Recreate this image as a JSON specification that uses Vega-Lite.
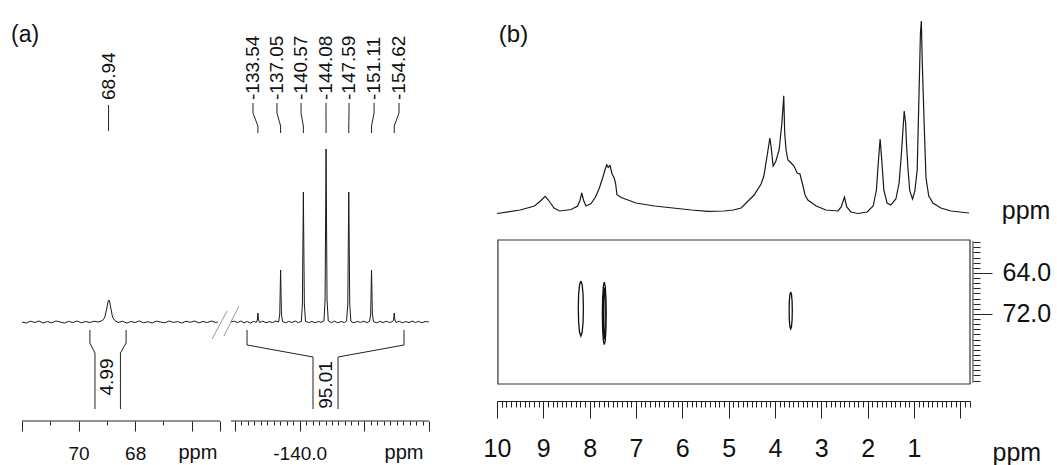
{
"$schema": "https://vega.github.io/schema/vega-lite/v6.json",
"background": "white",
"padding": {"left": 10, "top": 18, "right": 2, "bottom": 2},
"bounds": "flush",
"spacing": 11,
"config": {
  "view": {"stroke": null},
  "axis": {"grid": false, "domainColor": "#222", "tickColor": "#222", "labelColor": "#111", "labelFont": "Liberation Sans", "tickWidth": 1, "domainWidth": 1},
  "text": {"font": "Liberation Sans", "color": "#111"}
},
"datasets": {
  "a1": [
    {"ppm":72.0,"I":0},{"ppm":71.85,"I":-1},{"ppm":71.7,"I":0.8},{"ppm":71.55,"I":-0.5},{"ppm":71.4,"I":1},{"ppm":71.25,"I":-1},{"ppm":71.1,"I":0.5},{"ppm":70.95,"I":-0.8},{"ppm":70.8,"I":1},{"ppm":70.65,"I":0},{"ppm":70.5,"I":-1},{"ppm":70.35,"I":0.6},{"ppm":70.2,"I":-0.5},{"ppm":70.05,"I":1},{"ppm":69.9,"I":-0.8},{"ppm":69.75,"I":0.5},{"ppm":69.6,"I":-0.5},{"ppm":69.45,"I":0.8},{"ppm":69.3,"I":0},
    {"ppm":69.15,"I":1.5},{"ppm":69.07,"I":5},{"ppm":69.0,"I":14},{"ppm":68.96,"I":20},{"ppm":68.93,"I":22},{"ppm":68.9,"I":20},{"ppm":68.86,"I":14},{"ppm":68.8,"I":5},{"ppm":68.72,"I":1.5},
    {"ppm":68.6,"I":-0.5},{"ppm":68.45,"I":0.8},{"ppm":68.3,"I":-1},{"ppm":68.15,"I":0.5},{"ppm":68.0,"I":-0.5},{"ppm":67.85,"I":1},{"ppm":67.7,"I":-0.8},{"ppm":67.55,"I":0.3},{"ppm":67.4,"I":-1},{"ppm":67.25,"I":0.8},{"ppm":67.1,"I":0},{"ppm":66.95,"I":-0.8},{"ppm":66.8,"I":1},{"ppm":66.65,"I":-0.5},{"ppm":66.5,"I":0.5},{"ppm":66.35,"I":-1},{"ppm":66.2,"I":0.8},{"ppm":66.05,"I":-0.3},{"ppm":65.9,"I":1},{"ppm":65.75,"I":-0.8},{"ppm":65.6,"I":0.5},{"ppm":65.45,"I":-0.5},{"ppm":65.3,"I":1},{"ppm":65.15,"I":-0.5},{"ppm":65.08,"I":0}
  ],
  "a2": [
    {"ppm":-129.4,"I":0},{"ppm":-129.9,"I":0.8},{"ppm":-130.4,"I":-0.6},{"ppm":-130.9,"I":1},{"ppm":-131.4,"I":-0.8},{"ppm":-131.9,"I":0.5},{"ppm":-132.4,"I":-1},{"ppm":-132.9,"I":0.6},{"ppm":-133.3,"I":-0.3},
    {"ppm":-133.45,"I":2},{"ppm":-133.54,"I":9},{"ppm":-133.63,"I":2},
    {"ppm":-133.8,"I":-0.5},{"ppm":-134.3,"I":0.8},{"ppm":-134.8,"I":-0.8},{"ppm":-135.3,"I":0.4},{"ppm":-135.8,"I":-0.6},{"ppm":-136.3,"I":1},{"ppm":-136.75,"I":0},
    {"ppm":-136.92,"I":8},{"ppm":-137.05,"I":52},{"ppm":-137.18,"I":8},
    {"ppm":-137.35,"I":0.5},{"ppm":-137.8,"I":-0.8},{"ppm":-138.3,"I":0.6},{"ppm":-138.8,"I":-0.5},{"ppm":-139.3,"I":1},{"ppm":-139.8,"I":-0.6},{"ppm":-140.25,"I":0.5},
    {"ppm":-140.42,"I":18},{"ppm":-140.57,"I":130},{"ppm":-140.72,"I":18},
    {"ppm":-140.9,"I":0.8},{"ppm":-141.4,"I":-0.6},{"ppm":-141.9,"I":0.5},{"ppm":-142.4,"I":-0.8},{"ppm":-142.9,"I":0.6},{"ppm":-143.3,"I":-0.4},{"ppm":-143.75,"I":1},
    {"ppm":-143.93,"I":22},{"ppm":-144.08,"I":173},{"ppm":-144.23,"I":22},
    {"ppm":-144.42,"I":1},{"ppm":-144.9,"I":-0.6},{"ppm":-145.4,"I":0.8},{"ppm":-145.9,"I":-0.8},{"ppm":-146.4,"I":0.5},{"ppm":-146.9,"I":-0.5},{"ppm":-147.25,"I":1},
    {"ppm":-147.44,"I":18},{"ppm":-147.59,"I":130},{"ppm":-147.74,"I":18},
    {"ppm":-147.92,"I":0.5},{"ppm":-148.4,"I":-0.8},{"ppm":-148.9,"I":0.6},{"ppm":-149.4,"I":-0.4},{"ppm":-149.9,"I":0.8},{"ppm":-150.4,"I":-0.6},{"ppm":-150.8,"I":0.5},
    {"ppm":-150.98,"I":8},{"ppm":-151.11,"I":52},{"ppm":-151.24,"I":8},
    {"ppm":-151.42,"I":0.3},{"ppm":-151.9,"I":-0.8},{"ppm":-152.4,"I":0.6},{"ppm":-152.9,"I":-0.5},{"ppm":-153.4,"I":0.8},{"ppm":-153.9,"I":-0.6},{"ppm":-154.35,"I":0.5},
    {"ppm":-154.53,"I":2},{"ppm":-154.62,"I":9},{"ppm":-154.71,"I":2},
    {"ppm":-154.9,"I":-0.4},{"ppm":-155.4,"I":0.7},{"ppm":-155.9,"I":-0.8},{"ppm":-156.4,"I":0.5},{"ppm":-156.9,"I":-0.6},{"ppm":-157.4,"I":0.9},{"ppm":-157.9,"I":-0.5},{"ppm":-158.4,"I":0.6},{"ppm":-158.9,"I":-0.8},{"ppm":-159.4,"I":0.5},{"ppm":-159.95,"I":0}
  ],
  "b1": [
    {"ppm":10.0,"I":0},{"ppm":9.5,"I":3.5},{"ppm":9.19,"I":7.5},{"ppm":9.05,"I":13},{"ppm":8.96,"I":17.2},{"ppm":8.9,"I":14},{"ppm":8.83,"I":9.5},{"ppm":8.77,"I":5.5},{"ppm":8.65,"I":2.5},{"ppm":8.4,"I":4},{"ppm":8.26,"I":7.5},{"ppm":8.21,"I":13},{"ppm":8.17,"I":20.5},{"ppm":8.13,"I":13},{"ppm":8.08,"I":7.5},{"ppm":7.97,"I":10},{"ppm":7.88,"I":16},{"ppm":7.79,"I":25.5},{"ppm":7.71,"I":37},{"ppm":7.66,"I":45},{"ppm":7.63,"I":48.8},{"ppm":7.6,"I":46},{"ppm":7.56,"I":48},{"ppm":7.52,"I":40},{"ppm":7.47,"I":35.5},{"ppm":7.44,"I":30},{"ppm":7.41,"I":18.8},{"ppm":7.32,"I":16},{"ppm":7.0,"I":10.5},{"ppm":6.6,"I":7.5},{"ppm":6.2,"I":5.5},{"ppm":5.8,"I":3.5},{"ppm":5.45,"I":2.2},{"ppm":5.1,"I":2.5},{"ppm":4.9,"I":3.5},{"ppm":4.73,"I":5.5},
    {"ppm":4.45,"I":18.5},{"ppm":4.3,"I":29.5},{"ppm":4.24,"I":37.5},{"ppm":4.16,"I":60.5},{"ppm":4.11,"I":75.5},{"ppm":4.08,"I":65.5},{"ppm":4.04,"I":47.5},{"ppm":3.98,"I":52.5},{"ppm":3.91,"I":63.5},{"ppm":3.85,"I":90.5},{"ppm":3.81,"I":117.8},{"ppm":3.79,"I":80.5},{"ppm":3.76,"I":63.5},{"ppm":3.72,"I":53.5},{"ppm":3.65,"I":50.5},{"ppm":3.59,"I":47.5},{"ppm":3.52,"I":40.5},{"ppm":3.46,"I":39.5},{"ppm":3.4,"I":28.5},{"ppm":3.35,"I":18.5},{"ppm":3.29,"I":13.5},{"ppm":3.11,"I":7.5},{"ppm":2.9,"I":3.5},{"ppm":2.64,"I":2.5},{"ppm":2.57,"I":6.5},{"ppm":2.5,"I":16.5},{"ppm":2.45,"I":6.5},{"ppm":2.36,"I":1.5},{"ppm":2.21,"I":0},{"ppm":2.01,"I":1.5},{"ppm":1.88,"I":7.5},{"ppm":1.81,"I":23.5},{"ppm":1.77,"I":50.5},{"ppm":1.73,"I":74.5},{"ppm":1.69,"I":50.5},{"ppm":1.65,"I":23.5},{"ppm":1.58,"I":10.5},{"ppm":1.5,"I":8.5},{"ppm":1.39,"I":14.5},{"ppm":1.32,"I":30.5},{"ppm":1.27,"I":60.5},{"ppm":1.21,"I":102.5},{"ppm":1.18,"I":90.5},{"ppm":1.16,"I":68.8},{"ppm":1.13,"I":45.5},{"ppm":1.09,"I":22.5},{"ppm":1.03,"I":14.5},{"ppm":0.98,"I":22.5},{"ppm":0.93,"I":43.5},{"ppm":0.89,"I":120.5},{"ppm":0.86,"I":180.5},{"ppm":0.84,"I":192.5},{"ppm":0.82,"I":150.5},{"ppm":0.78,"I":90.5},{"ppm":0.74,"I":35.5},{"ppm":0.68,"I":17.5},{"ppm":0.59,"I":10.5},{"ppm":0.42,"I":5.5},{"ppm":0.2,"I":2.5},{"ppm":-0.19,"I":0.5}
  ],
  "b2": [
    {"id":"c1","o":0,"h":8.19,"c":65.56},{"id":"c1","o":1,"h":8.218,"c":66.28},{"id":"c1","o":2,"h":8.238,"c":68.25},{"id":"c1","o":3,"h":8.245,"c":70.93},{"id":"c1","o":4,"h":8.238,"c":73.61},{"id":"c1","o":5,"h":8.218,"c":75.57},{"id":"c1","o":6,"h":8.19,"c":76.29},{"id":"c1","o":7,"h":8.162,"c":75.57},{"id":"c1","o":8,"h":8.142,"c":73.61},{"id":"c1","o":9,"h":8.135,"c":70.93},{"id":"c1","o":10,"h":8.142,"c":68.25},{"id":"c1","o":11,"h":8.162,"c":66.28},{"id":"c1","o":12,"h":8.19,"c":65.56},
    {"id":"c2","o":0,"h":7.684,"c":65.81},{"id":"c2","o":1,"h":7.705,"c":66.63},{"id":"c2","o":2,"h":7.72,"c":68.86},{"id":"c2","o":3,"h":7.726,"c":71.9},{"id":"c2","o":4,"h":7.72,"c":74.95},{"id":"c2","o":5,"h":7.705,"c":77.18},{"id":"c2","o":6,"h":7.684,"c":77.99},{"id":"c2","o":7,"h":7.663,"c":77.18},{"id":"c2","o":8,"h":7.648,"c":74.95},{"id":"c2","o":9,"h":7.642,"c":71.9},{"id":"c2","o":10,"h":7.648,"c":68.86},{"id":"c2","o":11,"h":7.663,"c":66.63},{"id":"c2","o":12,"h":7.684,"c":65.81},
    {"id":"c2i","o":0,"h":7.684,"c":66.83},{"id":"c2i","o":1,"h":7.694,"c":67.51},{"id":"c2i","o":2,"h":7.701,"c":69.37},{"id":"c2i","o":3,"h":7.704,"c":71.9},{"id":"c2i","o":4,"h":7.701,"c":74.44},{"id":"c2i","o":5,"h":7.694,"c":76.29},{"id":"c2i","o":6,"h":7.684,"c":76.98},{"id":"c2i","o":7,"h":7.674,"c":76.29},{"id":"c2i","o":8,"h":7.667,"c":74.44},{"id":"c2i","o":9,"h":7.664,"c":71.9},{"id":"c2i","o":10,"h":7.667,"c":69.37},{"id":"c2i","o":11,"h":7.674,"c":67.51},{"id":"c2i","o":12,"h":7.684,"c":66.83},
    {"id":"c3","o":0,"h":3.66,"c":67.7},{"id":"c3","o":1,"h":3.677,"c":68.19},{"id":"c3","o":2,"h":3.69,"c":69.51},{"id":"c3","o":3,"h":3.694,"c":71.31},{"id":"c3","o":4,"h":3.69,"c":73.12},{"id":"c3","o":5,"h":3.677,"c":74.44},{"id":"c3","o":6,"h":3.66,"c":74.92},{"id":"c3","o":7,"h":3.643,"c":74.44},{"id":"c3","o":8,"h":3.63,"c":73.12},{"id":"c3","o":9,"h":3.626,"c":71.31},{"id":"c3","o":10,"h":3.63,"c":69.51},{"id":"c3","o":11,"h":3.643,"c":68.19},{"id":"c3","o":12,"h":3.66,"c":67.7}
  ]
},
"hconcat": [
  {
    "width": 198, "height": 400,
    "layer": [
      {"data": {"name": "a1"}, "mark": {"type": "line", "color": "#1a1a1a", "strokeWidth": 1},
       "encoding": {
         "x": {"field": "ppm", "type": "quantitative", "scale": {"domain": [72, 65], "nice": false, "zero": false},
               "axis": {"orient": "bottom", "title": null, "values": [72,71,70,69,68,67,66,65], "tickCount": 1000, "domain": false, "grid": false,
                        "tickSize": {"condition": {"test": "datum.value % 2 === 0 || datum.value === 65", "value": 10}, "value": 4},
                        "labelExpr": "datum.value === 70 ? '70' : (datum.value === 68 ? '68' : '')",
                        "labelFontSize": 19, "labelPadding": 13, "labelOverlap": false, "labelFlush": false}},
         "y": {"field": "I", "type": "quantitative", "scale": {"domain": [-99, 301], "nice": false, "zero": false}, "axis": null}
       }},
      {"data": {"values": [{}]}, "layer": [
        {"mark": {"type": "rule", "color": "#222", "strokeWidth": 1},
         "encoding": {"x": {"datum": 72, "type": "quantitative"}, "x2": {"datum": 65}, "y": {"datum": -99, "type": "quantitative", "axis": null}}},
        {"mark": {"type": "rule", "color": "#999", "strokeWidth": 1},
         "encoding": {"x": {"datum": 65.28, "type": "quantitative"}, "x2": {"datum": 64.75}, "y": {"datum": -17, "type": "quantitative", "axis": null}, "y2": {"datum": 11}}},
        {"mark": {"type": "rule", "color": "#999", "strokeWidth": 1},
         "encoding": {"x": {"datum": 64.86, "type": "quantitative"}, "x2": {"datum": 64.33}, "y": {"datum": -14, "type": "quantitative", "axis": null}, "y2": {"datum": 16}}},
        {"mark": {"type": "text", "align": "left", "baseline": "middle", "fontSize": 23},
         "encoding": {"x": {"datum": 72.39, "type": "quantitative"}, "y": {"datum": 287, "type": "quantitative", "axis": null}, "text": {"value": "(a)"}}},
        {"mark": {"type": "text", "align": "center", "baseline": "alphabetic", "fontSize": 20},
         "encoding": {"x": {"datum": 65.78, "type": "quantitative"}, "y": {"datum": -137, "type": "quantitative", "axis": null}, "text": {"value": "ppm"}}}
      ]},
      {"data": {"values": [{"shift": 68.94, "label": "68.94"}]}, "layer": [
        {"mark": {"type": "rule", "color": "#222", "strokeWidth": 1},
         "encoding": {"x": {"field": "shift", "type": "quantitative"}, "y": {"datum": 217, "type": "quantitative", "axis": null}, "y2": {"datum": 191}}},
        {"mark": {"type": "text", "angle": 270, "align": "left", "baseline": "middle", "fontSize": 19},
         "encoding": {"x": {"field": "shift", "type": "quantitative"}, "y": {"datum": 222, "type": "quantitative", "axis": null}, "text": {"field": "label"}}}
      ]},
      {"data": {"values": [{"lo": 69.60, "hi": 68.32, "loIn": 69.42, "hiIn": 68.52, "mid": 68.99, "label": "4.99"}]}, "layer": [
        {"mark": {"type": "rule", "color": "#222"}, "encoding": {"x": {"field": "lo", "type": "quantitative"}, "y": {"datum": -8, "type": "quantitative", "axis": null}, "y2": {"datum": -21}}},
        {"mark": {"type": "rule", "color": "#222"}, "encoding": {"x": {"field": "lo", "type": "quantitative"}, "x2": {"field": "loIn"}, "y": {"datum": -21, "type": "quantitative", "axis": null}, "y2": {"datum": -31}}},
        {"mark": {"type": "rule", "color": "#222"}, "encoding": {"x": {"field": "loIn", "type": "quantitative"}, "y": {"datum": -31, "type": "quantitative", "axis": null}, "y2": {"datum": -87}}},
        {"mark": {"type": "rule", "color": "#222"}, "encoding": {"x": {"field": "hi", "type": "quantitative"}, "y": {"datum": -8, "type": "quantitative", "axis": null}, "y2": {"datum": -21}}},
        {"mark": {"type": "rule", "color": "#222"}, "encoding": {"x": {"field": "hi", "type": "quantitative"}, "x2": {"field": "hiIn"}, "y": {"datum": -21, "type": "quantitative", "axis": null}, "y2": {"datum": -31}}},
        {"mark": {"type": "rule", "color": "#222"}, "encoding": {"x": {"field": "hiIn", "type": "quantitative"}, "y": {"datum": -31, "type": "quantitative", "axis": null}, "y2": {"datum": -87}}},
        {"mark": {"type": "text", "angle": 270, "align": "center", "baseline": "middle", "fontSize": 19},
         "encoding": {"x": {"field": "mid", "type": "quantitative"}, "y": {"datum": -55, "type": "quantitative", "axis": null}, "text": {"field": "label"}}}
      ]}
    ]
  },
  {
    "width": 255, "height": 400,
    "layer": [
      {"data": {"name": "a2"}, "mark": {"type": "line", "color": "#1a1a1a", "strokeWidth": 1},
       "encoding": {
         "x": {"field": "ppm", "type": "quantitative", "scale": {"domain": [-129.38, -168.81], "nice": false, "zero": false},
               "axis": {"orient": "bottom", "title": null, "tickCount": 1000,
                        "values": [-130,-131,-132,-133,-134,-135,-136,-137,-138,-139,-140,-141,-142,-143,-144,-145,-146,-147,-148,-149,-150,-151,-152,-153,-154,-155,-156,-157,-158,-159,-160],
                        "domain": false, "grid": false,
                        "tickSize": {"condition": {"test": "datum.value % 10 === 0", "value": 10}, "value": 4},
                        "labelExpr": "datum.value === -140 ? '-140.0' : ''",
                        "labelFontSize": 19, "labelPadding": 13, "labelOverlap": false, "labelFlush": false}},
         "y": {"field": "I", "type": "quantitative", "scale": {"domain": [-99, 301], "nice": false, "zero": false}, "axis": null}
       }},
      {"data": {"values": [{}]}, "layer": [
        {"mark": {"type": "rule", "color": "#222", "strokeWidth": 1},
         "encoding": {"x": {"datum": -129.38, "type": "quantitative"}, "x2": {"datum": -160}, "y": {"datum": -99, "type": "quantitative", "axis": null}}},
        {"mark": {"type": "text", "align": "center", "baseline": "alphabetic", "fontSize": 20},
         "encoding": {"x": {"datum": -156.13, "type": "quantitative"}, "y": {"datum": -137, "type": "quantitative", "axis": null}, "text": {"value": "ppm"}}}
      ]},
      {"data": {"values": [
        {"shift": -133.54, "lab": -132.78, "label": "-133.54"},
        {"shift": -137.05, "lab": -136.49, "label": "-137.05"},
        {"shift": -140.57, "lab": -140.21, "label": "-140.57"},
        {"shift": -144.08, "lab": -144.07, "label": "-144.08"},
        {"shift": -147.59, "lab": -147.63, "label": "-147.59"},
        {"shift": -151.11, "lab": -151.50, "label": "-151.11"},
        {"shift": -154.62, "lab": -155.36, "label": "-154.62"}]}, "layer": [
        {"mark": {"type": "rule", "color": "#222"}, "encoding": {"x": {"field": "lab", "type": "quantitative"}, "y": {"datum": 219, "type": "quantitative", "axis": null}, "y2": {"datum": 209}}},
        {"mark": {"type": "rule", "color": "#222"}, "encoding": {"x": {"field": "lab", "type": "quantitative"}, "x2": {"field": "shift"}, "y": {"datum": 209, "type": "quantitative", "axis": null}, "y2": {"datum": 196}}},
        {"mark": {"type": "rule", "color": "#222"}, "encoding": {"x": {"field": "shift", "type": "quantitative"}, "y": {"datum": 196, "type": "quantitative", "axis": null}, "y2": {"datum": 189}}},
        {"mark": {"type": "text", "angle": 270, "align": "left", "baseline": "middle", "fontSize": 19},
         "encoding": {"x": {"field": "lab", "type": "quantitative"}, "y": {"datum": 222, "type": "quantitative", "axis": null}, "text": {"field": "label"}}}
      ]},
      {"data": {"values": [{"lo": -131.86, "hi": -156.13, "loIn": -142.06, "hiIn": -145.93, "mid": -144.0, "label": "95.01"}]}, "layer": [
        {"mark": {"type": "rule", "color": "#222"}, "encoding": {"x": {"field": "lo", "type": "quantitative"}, "y": {"datum": -8, "type": "quantitative", "axis": null}, "y2": {"datum": -23}}},
        {"mark": {"type": "rule", "color": "#222"}, "encoding": {"x": {"field": "lo", "type": "quantitative"}, "x2": {"field": "loIn"}, "y": {"datum": -23, "type": "quantitative", "axis": null}, "y2": {"datum": -35}}},
        {"mark": {"type": "rule", "color": "#222"}, "encoding": {"x": {"field": "loIn", "type": "quantitative"}, "y": {"datum": -35, "type": "quantitative", "axis": null}, "y2": {"datum": -87}}},
        {"mark": {"type": "rule", "color": "#222"}, "encoding": {"x": {"field": "hi", "type": "quantitative"}, "y": {"datum": -8, "type": "quantitative", "axis": null}, "y2": {"datum": -23}}},
        {"mark": {"type": "rule", "color": "#222"}, "encoding": {"x": {"field": "hi", "type": "quantitative"}, "x2": {"field": "hiIn"}, "y": {"datum": -23, "type": "quantitative", "axis": null}, "y2": {"datum": -35}}},
        {"mark": {"type": "rule", "color": "#222"}, "encoding": {"x": {"field": "hiIn", "type": "quantitative"}, "y": {"datum": -35, "type": "quantitative", "axis": null}, "y2": {"datum": -87}}},
        {"mark": {"type": "text", "angle": 270, "align": "center", "baseline": "middle", "fontSize": 19},
         "encoding": {"x": {"field": "mid", "type": "quantitative"}, "y": {"datum": -63, "type": "quantitative", "axis": null}, "text": {"field": "label"}}}
      ]}
    ]
  },
  {
    "width": 473, "height": 363,
    "resolve": {"scale": {"y": "independent"}},
    "layer": [
      {"layer": [
        {"data": {"name": "b2"}, "mark": {"type": "line", "color": "#111", "strokeWidth": 1.3},
         "encoding": {
           "x": {"field": "h", "type": "quantitative", "scale": {"domain": [10, -0.21], "nice": false, "zero": false},
                 "axis": {"orient": "bottom", "title": null, "offset": 17, "tickCount": 1000,
                          "values": [10,9.9,9.8,9.7,9.6,9.5,9.4,9.3,9.2,9.1,9,8.9,8.8,8.7,8.6,8.5,8.4,8.3,8.2,8.1,8,7.9,7.8,7.7,7.6,7.5,7.4,7.3,7.2,7.1,7,6.9,6.8,6.7,6.6,6.5,6.4,6.3,6.2,6.1,6,5.9,5.8,5.7,5.6,5.5,5.4,5.3,5.2,5.1,5,4.9,4.8,4.7,4.6,4.5,4.4,4.3,4.2,4.1,4,3.9,3.8,3.7,3.6,3.5,3.4,3.3,3.2,3.1,3,2.9,2.8,2.7,2.6,2.5,2.4,2.3,2.2,2.1,2,1.9,1.8,1.7,1.6,1.5,1.4,1.3,1.2,1.1,1,0.9,0.8,0.7,0.6,0.5,0.4,0.3,0.2,0.1,0,-0.1,-0.2],
                          "domain": true, "grid": false,
                          "tickSize": {"condition": {"test": "abs(datum.value - round(datum.value)) < 0.01", "value": 17}, "value": 6},
                          "labelExpr": "abs(datum.value - round(datum.value)) < 0.01 && round(datum.value) >= 1 ? '' + round(datum.value) : ''",
                          "labelFontSize": 25, "labelPadding": 18, "labelOverlap": false, "labelFlush": false}},
           "y": {"field": "c", "type": "quantitative", "scale": {"domain": [14.83, 85.66], "reverse": true, "nice": false, "zero": false},
                 "axis": {"orient": "right", "title": null, "offset": 3, "domain": false, "grid": false, "tickCount": 1000,
                          "values": [58,59,60,61,62,63,64,65,66,67,68,69,70,71,72,73,74,75,76,77,78,79,80,81,82,83,84,85],
                          "tickSize": {"condition": {"test": "datum.value === 64 || datum.value === 72", "value": 19}, "value": 7},
                          "labelExpr": "datum.value === 64 ? '64.0' : (datum.value === 72 ? '72.0' : '')",
                          "labelFontSize": 25, "labelPadding": 10, "labelOverlap": false, "labelFlush": false}},
           "detail": {"field": "id"},
           "order": {"field": "o"}
         }},
        {"data": {"values": [{}]}, "layer": [
          {"mark": {"type": "rect", "fill": "white", "fillOpacity": 0, "stroke": "#333", "strokeWidth": 1.2},
           "encoding": {"x": {"datum": 9.98, "type": "quantitative"}, "x2": {"datum": -0.21}, "y": {"datum": 57.56, "type": "quantitative"}, "y2": {"datum": 85.66}}},
          {"mark": {"type": "rule", "color": "#333", "strokeWidth": 1},
           "encoding": {"x": {"datum": -0.274, "type": "quantitative"}, "y": {"datum": 57.76, "type": "quantitative"}, "y2": {"datum": 85.4}}},
          {"mark": {"type": "text", "align": "center", "baseline": "alphabetic", "fontSize": 25},
           "encoding": {"x": {"datum": -1.22, "type": "quantitative"}, "y": {"datum": 100.68, "type": "quantitative"}, "text": {"value": "ppm"}}}
        ]}
      ]},
      {"layer": [
        {"data": {"name": "b1"}, "mark": {"type": "line", "color": "#1a1a1a", "strokeWidth": 1.2},
         "encoding": {
           "x": {"field": "ppm", "type": "quantitative"},
           "y": {"field": "I", "type": "quantitative", "scale": {"domain": [-170.5, 192.5], "nice": false, "zero": false}, "axis": null}
         }},
        {"data": {"values": [{}]}, "layer": [
          {"mark": {"type": "text", "align": "left", "baseline": "middle", "fontSize": 24},
           "encoding": {"x": {"datum": 9.96, "type": "quantitative"}, "y": {"datum": 179, "type": "quantitative", "axis": null}, "text": {"value": "(b)"}}},
          {"mark": {"type": "text", "align": "center", "baseline": "alphabetic", "fontSize": 25},
           "encoding": {"x": {"datum": -1.42, "type": "quantitative"}, "y": {"datum": -5.5, "type": "quantitative", "axis": null}, "text": {"value": "ppm"}}}
        ]}
      ]}
    ]
  }
]
}
